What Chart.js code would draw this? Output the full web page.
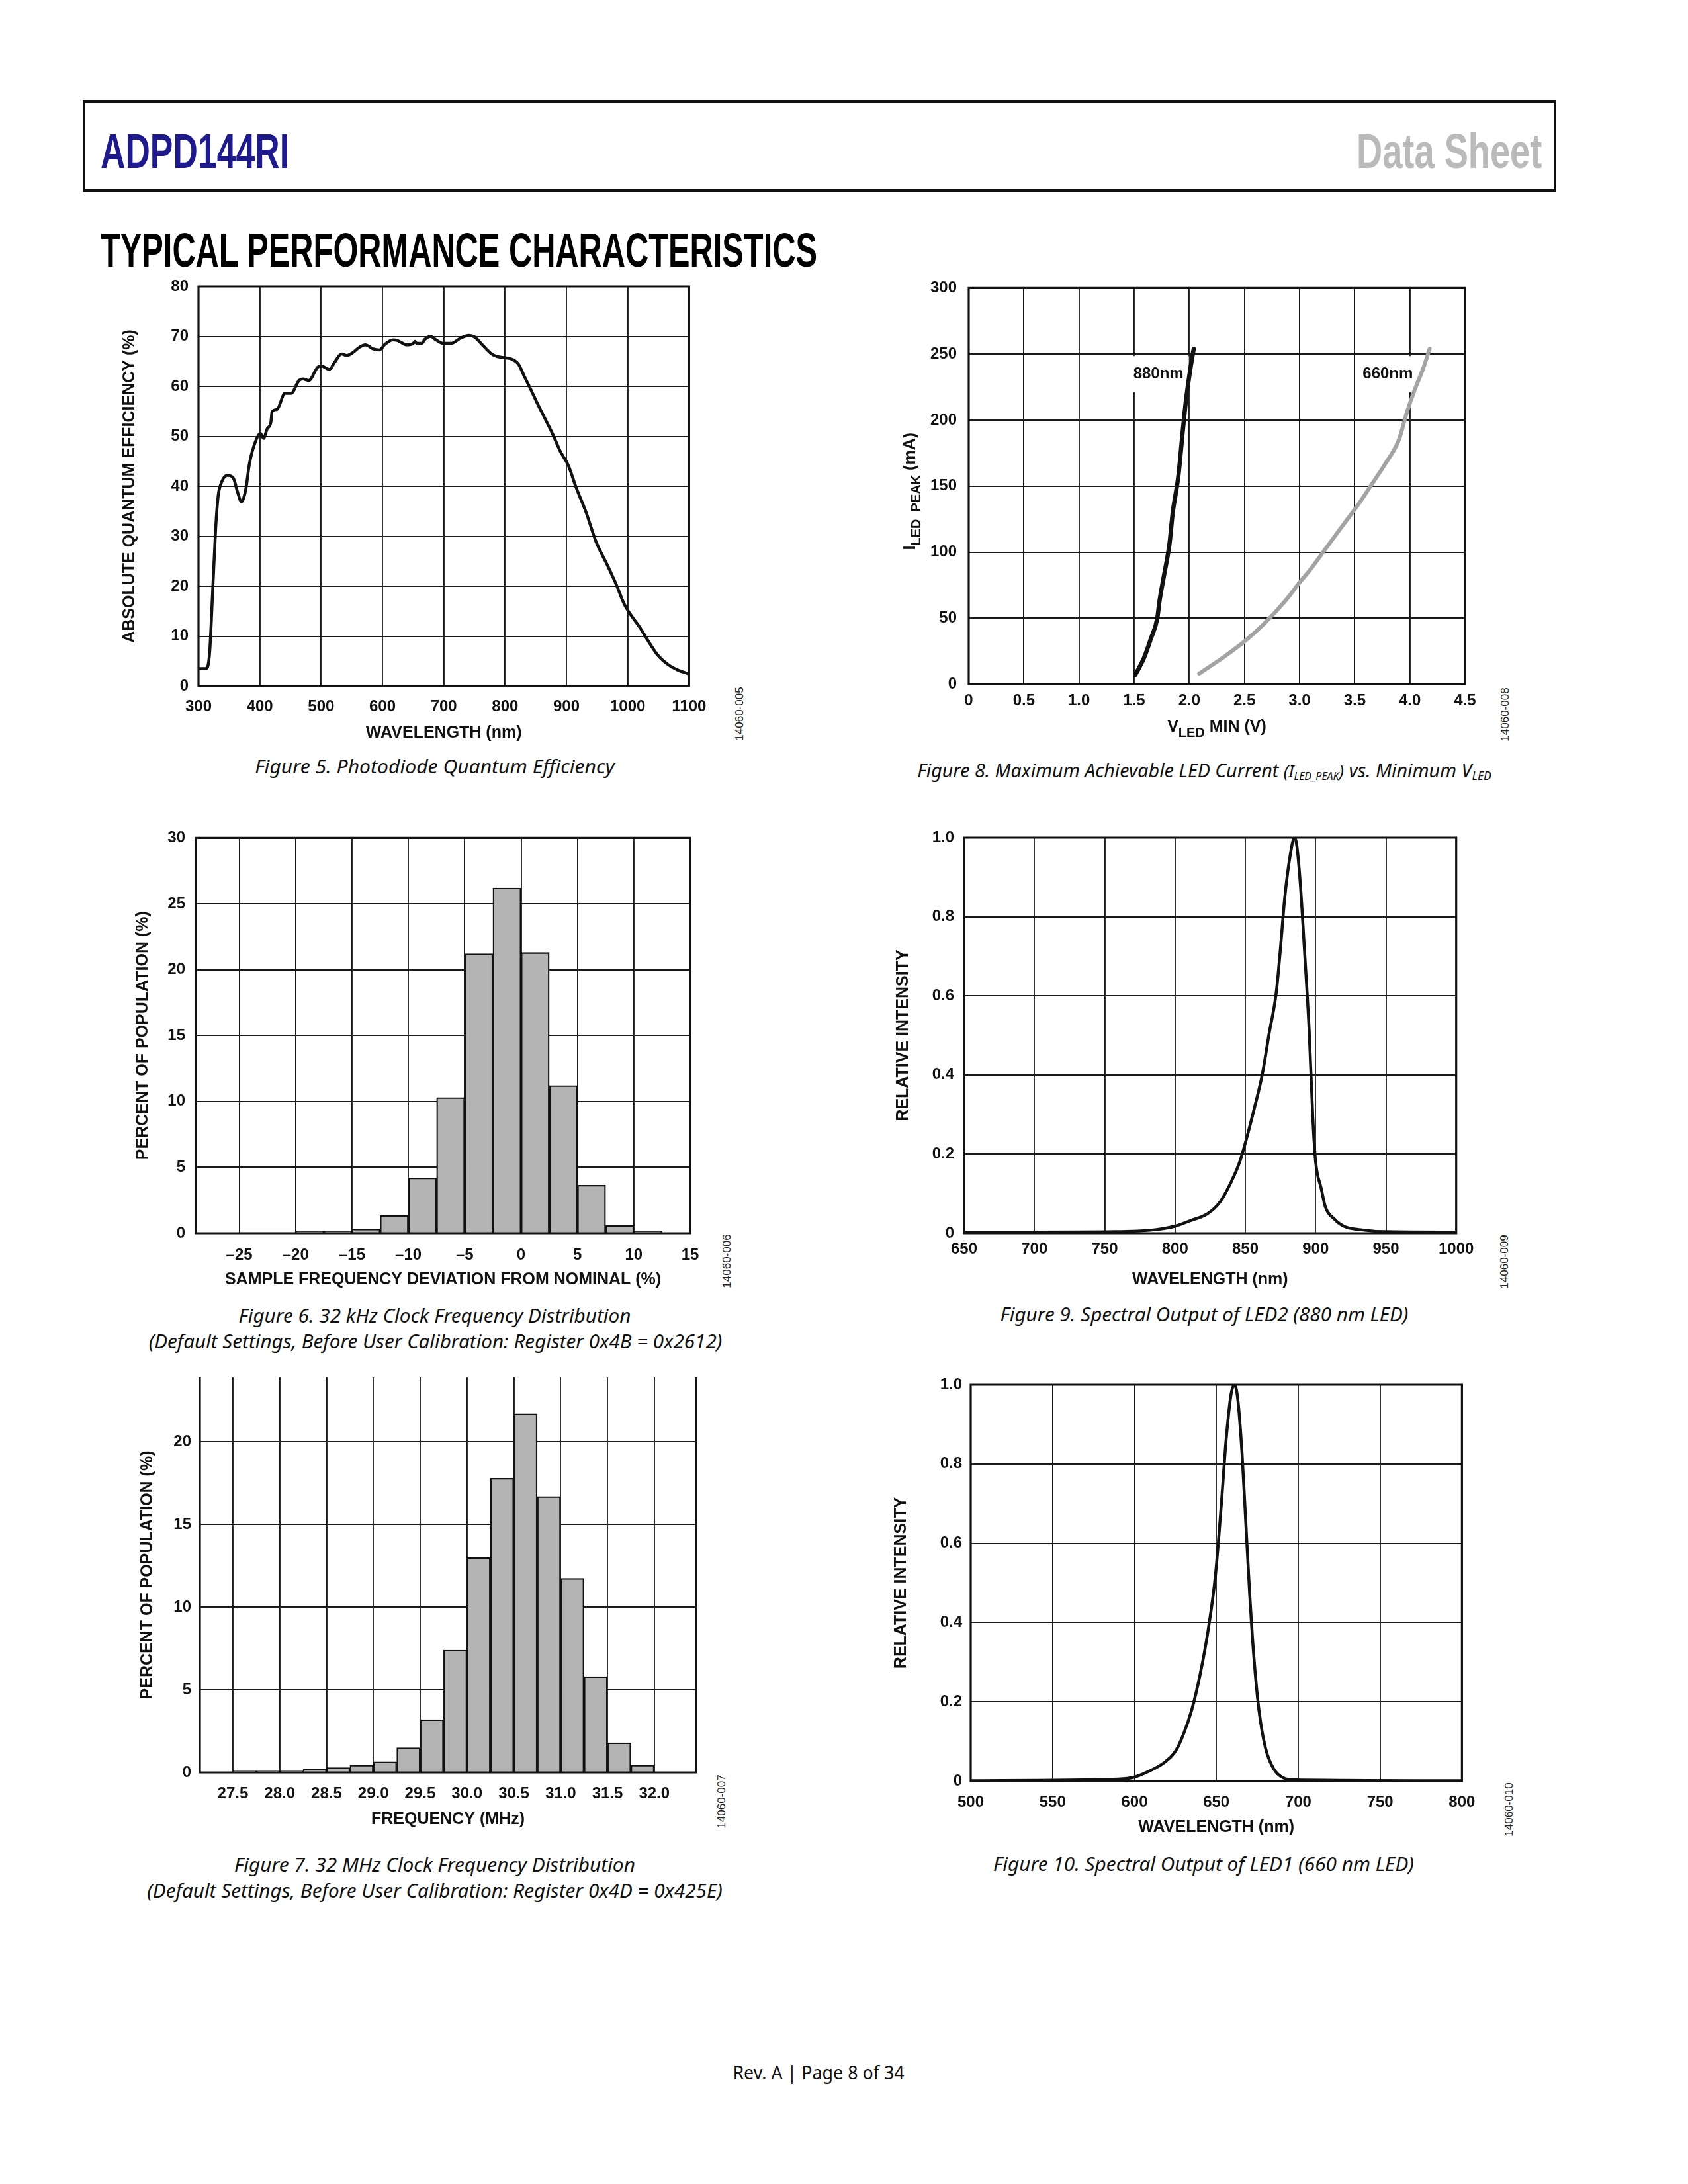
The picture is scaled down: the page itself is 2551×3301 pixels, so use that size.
<!DOCTYPE html>
<html>
<head>
<meta charset="utf-8">
<title>ADPD144RI - Typical Performance Characteristics</title>
<script src="https://cdn.jsdelivr.net/npm/chart.js@4.4.1/dist/chart.umd.min.js"></script>
<style>
  html, body { margin: 0; padding: 0; background: #fff; }
  body { width: 2551px; height: 3301px; position: relative; overflow: hidden; }
  .abs { position: absolute; white-space: nowrap; line-height: 1; }
  .abs sub { font-size: 0.62em; vertical-align: -0.25em; line-height: 0; }
  #hdr { position: absolute; left: 125px; top: 151px; width: 2227px; height: 139px;
         box-sizing: border-box; border: 3px solid #111; border-top-width: 4px; border-bottom-width: 4px; }
  canvas { position: absolute; }
</style>
</head>
<body>
<div id="hdr"></div>
<script>
// ---------- Figure 5: photodiode quantum efficiency ----------
const qeWavelength = [300, 312, 318, 323, 328, 332, 336, 347, 357, 364, 370, 377, 383, 393, 401, 406, 412, 418, 420, 428,
  441, 451, 464, 470, 480, 494, 500, 513, 523, 533, 542, 551, 562, 572, 585, 595, 604, 617, 624, 640,
  650, 653, 656, 664, 669, 679, 685, 699, 712, 728, 741, 750, 763, 776, 786, 802, 812, 822, 831, 841,
  851, 864, 877, 890, 903, 916, 932, 948, 968, 981, 994, 1007, 1020, 1033, 1049, 1066, 1082, 1098];
const qeEfficiency = [3.5, 3.5, 6.5, 18.8, 31.6, 38, 40.3, 42.2, 41.6, 38.7, 36.9, 39.3, 44.5, 49, 50.6, 49.6, 51.5, 52.8, 55, 55.4,
  58.6, 58.6, 61.2, 61.5, 61.2, 63.8, 64.1, 63.4, 65, 66.5, 66.2, 66.7, 67.8, 68.3, 67.5, 67.3, 68.4, 69.3, 69.2, 68.3,
  68.6, 69, 68.6, 68.6, 69.4, 70, 69.5, 68.6, 68.6, 69.7, 70.2, 69.9, 68.3, 66.7, 66, 65.7, 65.4, 64.4, 62.1, 59.6,
  57, 53.8, 50.6, 47, 44.2, 39.7, 34.8, 29, 23.9, 20.4, 16.5, 13.9, 11.7, 9.1, 6.2, 4.3, 3.2, 2.5];
const qeTicksX = [300, 400, 500, 600, 700, 800, 900, 1000, 1100];
const qeTicksY = [0, 10, 20, 30, 40, 50, 60, 70, 80];

// ---------- Figure 8: max LED current vs min VLED ----------
const v880 = [1.51, 1.59, 1.65, 1.71, 1.73, 1.77, 1.82, 1.85, 1.90, 1.94, 1.97, 2.01, 2.04];
const i880 = [7, 20, 34, 50, 63, 82, 106, 130, 157, 191, 215, 239, 254];
const v660 = [2.09, 2.32, 2.51, 2.67, 2.87, 3.0, 3.09, 3.24, 3.39, 3.54, 3.66, 3.77, 3.90, 3.97, 4.04, 4.12, 4.18];
const i660 = [8, 21, 33, 45, 63, 77, 86, 103, 120, 137, 152, 166, 185, 205, 222, 239, 254];
const ledLabelText = ['880nm', '660nm'];
const ledLabelV = [1.72, 3.80];
const ledLabelI = [235, 235];
const ledLabelBoxI = [221, 248.5];
const ledTicksX = [0, 0.5, 1.0, 1.5, 2.0, 2.5, 3.0, 3.5, 4.0, 4.5];
const ledTicksY = [0, 50, 100, 150, 200, 250, 300];

// ---------- Figure 6: 32 kHz clock distribution ----------
const khzBinStart = [-25, -22.5, -20, -17.5, -15, -12.5, -10, -7.5, -5, -2.5, 0, 2.5, 5, 7.5, 10];
const khzPercent = [0.05, 0.05, 0.15, 0.15, 0.33, 1.35, 4.2, 10.3, 21.2, 26.2, 21.3, 11.2, 3.65, 0.6, 0.15];
const khzBinWidth = 2.5;
const khzTicksX = [-25, -20, -15, -10, -5, 0, 5, 10, 15];
const khzTicksY = [0, 5, 10, 15, 20, 25, 30];

// ---------- Figure 9: LED2 spectrum ----------
const led2Wavelength = [650, 700, 757, 786, 800, 811, 823, 832, 840, 846, 850, 856, 862, 867, 872, 875, 878, 882, 885,
  886.5, 889, 892, 895.5, 898, 900, 904, 907, 913, 920, 932, 950, 1000];
const led2Intensity = [0.003, 0.003, 0.004, 0.009, 0.018, 0.032, 0.049, 0.079, 0.13, 0.18, 0.228, 0.31, 0.40, 0.506, 0.608, 0.72, 0.846, 0.957, 1.0,
  0.983, 0.889, 0.72, 0.506, 0.292, 0.182, 0.113, 0.066, 0.037, 0.018, 0.009, 0.004, 0.003];
const led2TicksX = [650, 700, 750, 800, 850, 900, 950, 1000];

// ---------- Figure 7: 32 MHz clock distribution ----------
const mhzBinStart = [27.5, 27.75, 28.0, 28.25, 28.5, 28.75, 29.0, 29.25, 29.5, 29.75, 30.0, 30.25, 30.5, 30.75, 31.0, 31.25, 31.5, 31.75];
const mhzPercent = [0.1, 0.1, 0.1, 0.2, 0.3, 0.45, 0.65, 1.5, 3.2, 7.4, 13.0, 17.8, 21.7, 16.7, 11.75, 5.8, 1.8, 0.45];
const mhzBinWidth = 0.25;
const mhzTicksX = [27.5, 28.0, 28.5, 29.0, 29.5, 30.0, 30.5, 31.0, 31.5, 32.0];
const mhzTicksY = [0, 5, 10, 15, 20];

// ---------- Figure 10: LED1 spectrum ----------
const led1Wavelength = [500, 590, 600, 610, 617.6, 625, 630, 635, 640, 645, 649.5, 653, 656, 659, 661, 663, 665.7, 668, 670.3, 672.8, 676, 680, 685, 691, 698.5, 800];
const led1Intensity = [0.001, 0.005, 0.01, 0.027, 0.045, 0.075, 0.119, 0.18, 0.267, 0.381, 0.521, 0.696, 0.862, 0.976, 1.0, 0.967, 0.827, 0.652, 0.477, 0.32, 0.18, 0.084, 0.031, 0.008, 0.003, 0.001];
const led1TicksX = [500, 550, 600, 650, 700, 750, 800];
const relTicksY = [0, 0.2, 0.4, 0.6, 0.8, 1.0];

// ---------- page text ----------
const SANS = "'Liberation Sans', Arial, Helvetica, sans-serif";
const CAPFONT = "'Noto Sans', 'Open Sans', sans-serif";

// espacio fijo alrededor de cada área de trazado
const PAD = { l: 140, t: 30, r: 30, b: 110 };

Chart.defaults.font.family = SANS;
Chart.defaults.color = '#111';

function placeText(html, o) {
  const el = document.createElement('div');
  el.className = 'abs';
  el.innerHTML = html;
  el.style.font = o.font;
  el.style.color = o.color || '#111';
  document.body.appendChild(el);
  const s = o.width ? o.width / el.offsetWidth : 1;
  el.style.left = o.x + 'px';
  el.style.top = o.y + 'px';
  if (o.center) {
    el.style.transform = `translate(-50%,-50%) scaleX(${s})`;
  } else {
    el.style.transformOrigin = '0 0';
    el.style.transform = `scaleX(${s})`;
  }
  return el;
}

function placeCode(txt, x, y) {
  const el = document.createElement('div');
  el.className = 'abs';
  el.textContent = txt;
  el.style.font = `17px ${SANS}`;
  el.style.color = '#222';
  el.style.left = x + 'px';
  el.style.top = y + 'px';
  el.style.transform = 'translate(-50%,-50%) rotate(-90deg)';
  document.body.appendChild(el);
}

// header
placeText('ADPD144RI', { x: 152, y: 186, width: 285, font: `bold 74px ${SANS}`, color: '#1f1a8c' });
placeText('Data Sheet', { x: 2050, y: 186, width: 280, font: `bold 74px ${SANS}`, color: '#bababa' });
placeText('TYPICAL PERFORMANCE CHARACTERISTICS', { x: 152, y: 336, width: 1083, font: `bold 73px ${SANS}`, color: '#000' });

// captions
const captions = [
  ['Figure 5. Photodiode Quantum Efficiency', 657, 1157, 543],
  ['Figure 8. Maximum Achievable LED Current <span style="font-size:0.9em">(I<sub>LED_PEAK</sub>)</span> vs. Minimum V<sub>LED</sub>', 1820, 1163, 868],
  ['Figure 6. 32 kHz Clock Frequency Distribution', 657, 1987, 593],
  ['(Default Settings, Before User Calibration: Register 0x4B = 0x2612)', 658, 2026, 867],
  ['Figure 9. Spectral Output of LED2 (880 nm LED)', 1820, 1985, 617],
  ['Figure 7. 32 MHz Clock Frequency Distribution', 657, 2817, 606],
  ['(Default Settings, Before User Calibration: Register 0x4D = 0x425E)', 657, 2856, 870],
  ['Figure 10. Spectral Output of LED1 (660 nm LED)', 1819, 2816, 636]
];
captions.forEach(c => placeText(c[0], { x: c[1], y: c[2], width: c[3], center: true, font: `italic 29px ${CAPFONT}` }));

placeText('Rev. A | Page 8 of 34', { x: 1237, y: 3131, width: 259, center: true, font: `29px ${CAPFONT}` });

placeCode('14060-005', 1118, 1079);
placeCode('14060-008', 2275, 1080);
placeCode('14060-006', 1099, 1906);
placeCode('14060-009', 2274, 1907);
placeCode('14060-007', 1091, 2723);
placeCode('14060-010', 2281, 2735);

// ---------- chart helpers ----------
const tickFont = { family: SANS, size: 24, weight: 'bold', lineHeight: 1.2 };
const titleFont = { family: SANS, size: 25, weight: 'bold', lineHeight: 1.2 };
const GRID = { color: '#1a1a1a', lineWidth: 1.9, drawTicks: false, offset: false };

// marco grueso alrededor del área de trazado
const framePlugin = {
  id: 'frame',
  afterDatasetsDraw(chart, args, opts) {
    const { left, top, right, bottom } = chart.chartArea;
    const ctx = chart.ctx;
    ctx.save();
    ctx.strokeStyle = '#111';
    ctx.lineWidth = 3.2;
    ctx.beginPath();
    if (opts.openTop) {
      ctx.moveTo(left, top); ctx.lineTo(left, bottom); ctx.lineTo(right, bottom); ctx.lineTo(right, top);
    } else {
      ctx.rect(left, top, right - left, bottom - top);
    }
    ctx.stroke();
    ctx.restore();
  }
};
Chart.register(framePlugin);

function fixedTicks(list) {
  return s => { s.ticks = list.map(v => ({ value: v })); };
}

function axisX(o) {
  return {
    type: 'linear', position: 'bottom', min: o.min, max: o.max, offset: false,
    afterBuildTicks: fixedTicks(o.ticks),
    afterFit: s => { s.height = PAD.b; },
    grid: GRID,
    border: { display: false },
    ticks: { padding: o.tickDy - 14.4, font: tickFont, color: '#111', maxRotation: 0, autoSkip: false,
             callback: o.fmt || (v => String(v)) },
    title: o.title
      ? { display: true, text: o.title, font: titleFont, color: '#111', padding: { top: 0, bottom: PAD.b - 15 - o.titleDy } }
      : { display: false }
  };
}

function axisY(o) {
  return {
    type: 'linear', position: 'left', min: o.min, max: o.max,
    afterBuildTicks: fixedTicks(o.ticks),
    afterFit: s => { s.width = PAD.l; },
    grid: GRID,
    border: { display: false },
    ticks: { padding: o.tickDx, font: tickFont, color: '#111', autoSkip: false,
             callback: o.fmt || (v => String(v)) },
    title: o.title
      ? { display: true, text: o.title, font: titleFont, color: '#111', padding: { top: PAD.l - o.titleDx - 15, bottom: 0 } }
      : { display: false }
  };
}

function baseOptions(x, y, frameOpts) {
  return {
    responsive: false,
    animation: false,
    devicePixelRatio: 1,
    layout: { padding: { left: 0, top: PAD.t, right: PAD.r, bottom: 0 } },
    plugins: { legend: { display: false }, tooltip: { enabled: false }, frame: frameOpts || {} },
    scales: { x, y }
  };
}

function curve(xs, ys, color, width) {
  return {
    data: xs.map((v, i) => ({ x: v, y: ys[i] })),
    borderColor: color, borderWidth: width,
    pointRadius: 0, fill: false,
    borderCapStyle: 'round', borderJoinStyle: 'round',
    cubicInterpolationMode: 'monotone'
  };
}

function histogram(starts, values, binWidth) {
  return {
    data: starts.map((v, i) => ({ x: v + binWidth / 2, y: values[i] })),
    backgroundColor: '#b4b4b4', borderColor: '#111', borderWidth: 2.3,
    borderSkipped: 'start', barPercentage: 1, categoryPercentage: 1
  };
}

function makeChart(plot, cfg) {
  const c = document.createElement('canvas');
  const w = plot.r - plot.l + PAD.l + PAD.r;
  const h = plot.b - plot.t + PAD.t + PAD.b;
  c.width = w; c.height = h;
  c.style.left = (plot.l - PAD.l) + 'px';
  c.style.top = (plot.t - PAD.t) + 'px';
  c.style.width = w + 'px';
  c.style.height = h + 'px';
  document.body.appendChild(c);
  return new Chart(c.getContext('2d'), cfg);
}

const oneDec = v => (v === 0 ? '0' : v.toFixed(1));
const dashNeg = v => (v < 0 ? '\u2013' + Math.abs(v) : String(v));

// texto con subíndices (títulos de ejes de la Figura 8)
function drawParts(ctx, parts, cx, cy, rot) {
  const main = `bold 25px ${SANS}`, sub = `bold 20px ${SANS}`;
  let total = 0;
  const widths = parts.map(p => { ctx.font = p[1] ? sub : main; const w = ctx.measureText(p[0]).width; total += w; return w; });
  ctx.save();
  ctx.translate(cx, cy);
  ctx.rotate(rot);
  ctx.fillStyle = '#111';
  ctx.textAlign = 'left';
  ctx.textBaseline = 'alphabetic';
  let xx = -total / 2;
  parts.forEach((p, i) => {
    ctx.font = p[1] ? sub : main;
    ctx.fillText(p[0], xx, 9 + (p[1] ? 8 : 0));
    xx += widths[i];
  });
  ctx.restore();
}

const ledPlugin = {
  id: 'ledExtras',
  beforeDatasetsDraw(chart) {
    const { ctx, scales: { x, y } } = chart;
    ctx.save();
    ctx.font = `bold 24px ${SANS}`;
    ctx.textAlign = 'center';
    ctx.textBaseline = 'middle';
    ledLabelText.forEach((t, i) => {
      const px = x.getPixelForValue(ledLabelV[i]);
      const py = y.getPixelForValue(ledLabelI[i]);
      const w = ctx.measureText(t).width + 16;
      const top = y.getPixelForValue(ledLabelBoxI[1]);
      const bot = y.getPixelForValue(ledLabelBoxI[0]);
      ctx.fillStyle = '#fff';
      ctx.fillRect(px - w / 2, top, w, bot - top);
      ctx.fillStyle = '#111';
      ctx.fillText(t, px, py);
    });
    ctx.restore();
  },
  afterDraw(chart) {
    const { ctx, chartArea: a } = chart;
    drawParts(ctx, [['I', false], ['LED_PEAK', true], [' (mA)', false]], a.left - 90, (a.top + a.bottom) / 2 + 8, -Math.PI / 2);
    drawParts(ctx, [['V', false], ['LED', true], [' MIN (V)', false]], (a.left + a.right) / 2, a.bottom + 63, 0);
  }
};

// ---------- Figure 5 ----------
makeChart({ l: 300, t: 433, r: 1054, b: 1037 }, {
  type: 'line',
  data: { datasets: [curve(qeWavelength, qeEfficiency, '#111', 4.5)] },
  options: baseOptions(
    axisX({ min: 300, max: 1100, ticks: qeTicksX, tickDy: 31, title: 'WAVELENGTH (nm)', titleDy: 71 }),
    axisY({ min: 0, max: 80, ticks: qeTicksY, tickDx: 15, title: 'ABSOLUTE QUANTUM EFFICIENCY (%)', titleDx: 104 }))
});

// ---------- Figure 8 ----------
makeChart({ l: 1464, t: 433, r: 2214, b: 1034 }, {
  type: 'line',
  data: { datasets: [curve(v880, i880, '#111', 6.5), curve(v660, i660, '#a3a3a3', 6)] },
  options: baseOptions(
    axisX({ min: 0, max: 4.5, ticks: ledTicksX, tickDy: 25, fmt: oneDec }),
    axisY({ min: 0, max: 300, ticks: ledTicksY, tickDx: 18 })),
  plugins: [ledPlugin]
});

// ---------- Figure 6 ----------
makeChart({ l: 296, t: 1266, r: 1045, b: 1864 }, {
  type: 'bar',
  data: { datasets: [histogram(khzBinStart, khzPercent, khzBinWidth)] },
  options: baseOptions(
    axisX({ min: -28.85, max: 15, ticks: khzTicksX, tickDy: 33, fmt: dashNeg,
            title: 'SAMPLE FREQUENCY DEVIATION FROM NOMINAL (%)', titleDy: 70 }),
    axisY({ min: 0, max: 30, ticks: khzTicksY, tickDx: 16, title: 'PERCENT OF POPULATION (%)', titleDx: 80 }))
});

// ---------- Figure 9 ----------
makeChart({ l: 1457, t: 1266, r: 2207, b: 1864 }, {
  type: 'line',
  data: { datasets: [curve(led2Wavelength, led2Intensity, '#111', 4.5)] },
  options: baseOptions(
    axisX({ min: 650, max: 1000, ticks: led2TicksX, tickDy: 24, title: 'WAVELENGTH (nm)', titleDy: 70 }),
    axisY({ min: 0, max: 1, ticks: relTicksY, tickDx: 15, fmt: oneDec, title: 'RELATIVE INTENSITY', titleDx: 92 }))
});

// ---------- Figure 7 ----------
makeChart({ l: 302, t: 2082, r: 1052, b: 2679 }, {
  type: 'bar',
  data: { datasets: [histogram(mhzBinStart, mhzPercent, mhzBinWidth)] },
  options: baseOptions(
    axisX({ min: 27.147, max: 32.447, ticks: mhzTicksX, tickDy: 32, fmt: v => v.toFixed(1),
            title: 'FREQUENCY (MHz)', titleDy: 71 }),
    axisY({ min: 0, max: 23.9, ticks: mhzTicksY, tickDx: 13, title: 'PERCENT OF POPULATION (%)', titleDx: 79 }),
    { openTop: true })
});

// ---------- Figure 10 ----------
makeChart({ l: 1467, t: 2093, r: 2217, b: 2692 }, {
  type: 'line',
  data: { datasets: [curve(led1Wavelength, led1Intensity, '#111', 4.5)] },
  options: baseOptions(
    axisX({ min: 500, max: 800, ticks: led1TicksX, tickDy: 32, title: 'WAVELENGTH (nm)', titleDy: 70 }),
    axisY({ min: 0, max: 1, ticks: relTicksY, tickDx: 13, fmt: oneDec, title: 'RELATIVE INTENSITY', titleDx: 105 }))
});
</script>
</body>
</html>
